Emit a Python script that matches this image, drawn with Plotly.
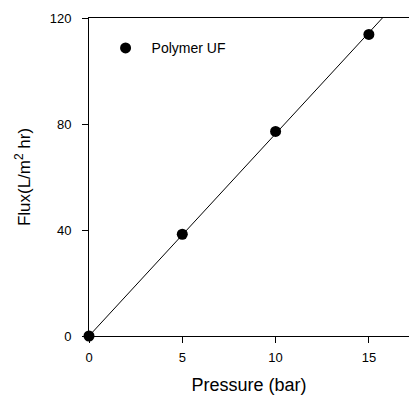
import numpy as np
import plotly.graph_objects as go

pressure = [0, 5, 10, 15]
flux = [0, 38.4, 77.2, 113.8]
series_name = "Polymer UF"
x_ticks = [0, 5, 10, 15]
y_ticks = [0, 40, 80, 120]

px = np.array(pressure, dtype=float)
py = np.array(flux, dtype=float)
slope = float(np.sum(px * py) / np.sum(px * px))
x_max = 17.15
fit_x = np.array([0.0, x_max])
fit_y = slope * fit_x

fig = go.Figure()
fig.add_trace(go.Scatter(x=fit_x, y=fit_y, mode="lines",
                         line=dict(color="black", width=1),
                         showlegend=False, hoverinfo="skip"))
fig.add_trace(go.Scatter(x=pressure, y=flux, mode="markers", name=series_name,
                         marker=dict(color="black", size=11),
                         cliponaxis=False))

font = "Liberation Sans, Arial, sans-serif"
fig.update_layout(
    width=409, height=399,
    margin=dict(l=89, r=0, t=18, b=63),
    paper_bgcolor="white", plot_bgcolor="white",
    font=dict(family=font, color="black", size=13),
    showlegend=True,
    legend=dict(x=0.033, y=0.955, xanchor="left", yanchor="top",
                bgcolor="rgba(0,0,0,0)", font=dict(size=14, family=font),
                itemwidth=42),
    xaxis=dict(range=[0, x_max], tickvals=x_ticks, ticks="outside", ticklen=6,
               tickcolor="black", showline=True, linecolor="black", linewidth=1,
               mirror=True, showgrid=False, zeroline=False,
               tickfont=dict(size=13), ticklabelstandoff=3,
               title=dict(text="Pressure (bar)", font=dict(size=18), standoff=14)),
    yaxis=dict(range=[0, 120], tickvals=y_ticks, ticks="outside", ticklen=6,
               tickcolor="black", showline=True, linecolor="black", linewidth=1,
               showgrid=False, zeroline=False,
               tickfont=dict(size=13), ticklabelstandoff=8,
               title=dict(text="Flux(L/m<sup>2</sup> hr)", font=dict(size=17), standoff=14)),
)
fig.write_html("out.html")
